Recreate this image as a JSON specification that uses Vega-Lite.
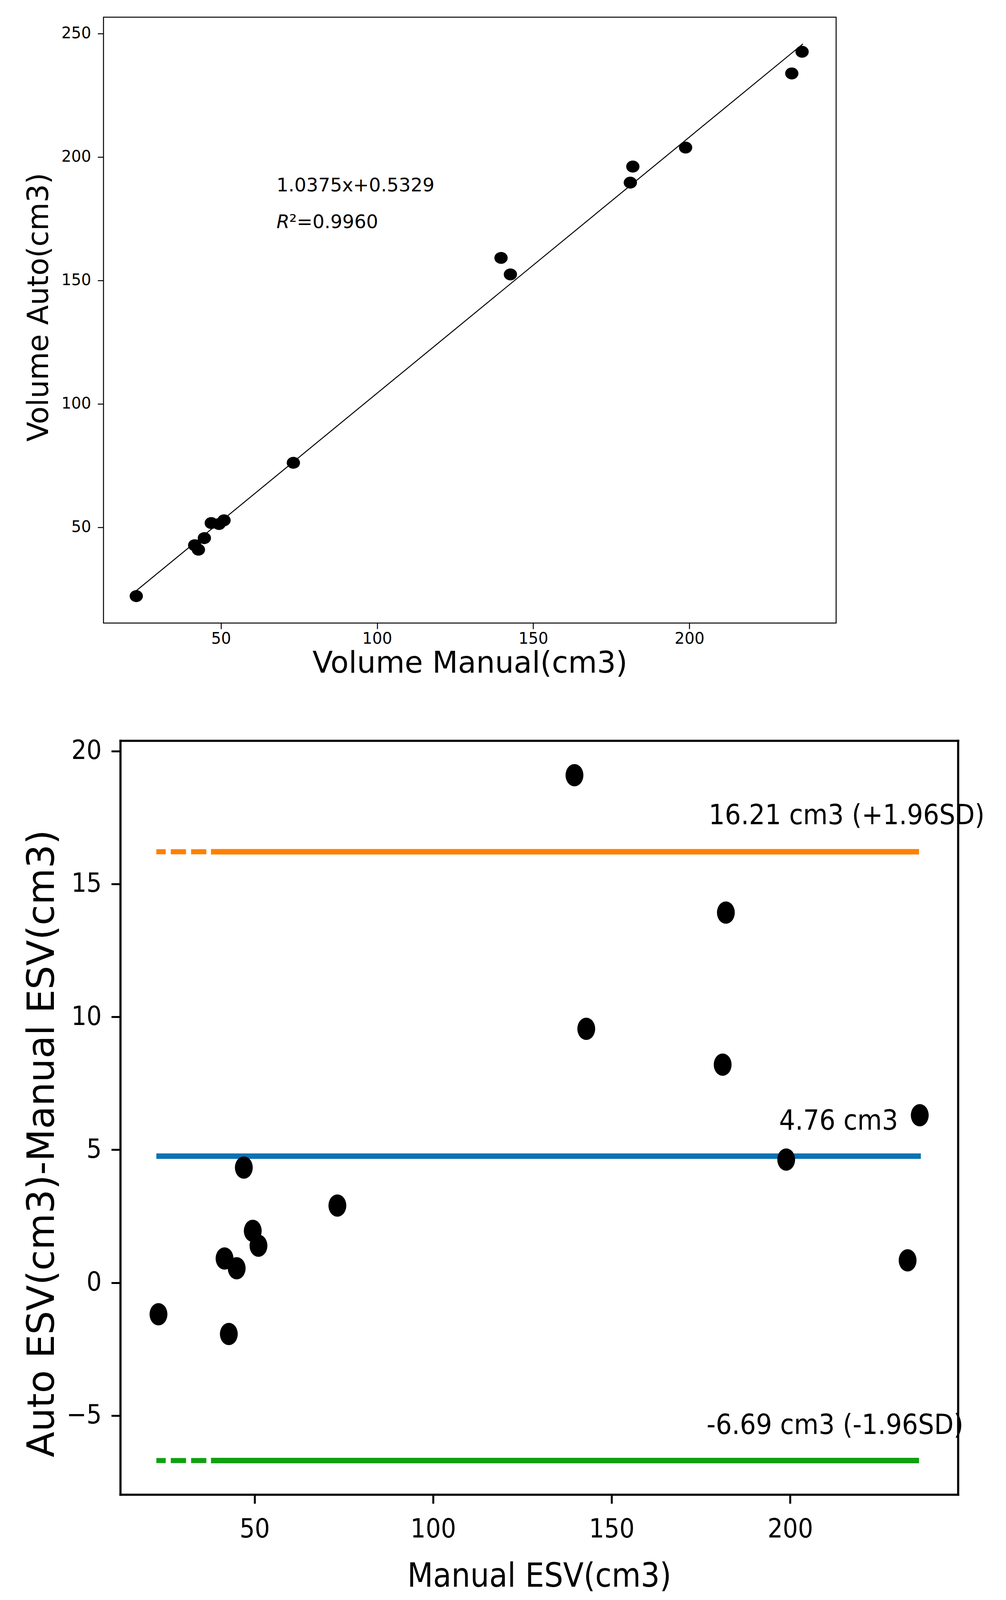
{
  "$schema": "https://vega.github.io/schema/vega-lite/v6.json",
  "background": "white",
  "padding": {"left": 60, "top": 42, "right": 40, "bottom": 20},
  "autosize": {"type": "pad"},
  "spacing": 150,
  "config": {"view": {"stroke": null}, "axis": {"grid": false}},
  "datasets": {
    "reg": [
      {"x": 22.9, "y": 22.1}, {"x": 41.6, "y": 42.7}, {"x": 42.8, "y": 40.9},
      {"x": 44.7, "y": 45.6}, {"x": 46.9, "y": 51.7}, {"x": 49.4, "y": 51.3},
      {"x": 51.0, "y": 52.8}, {"x": 73.2, "y": 76.1}, {"x": 139.7, "y": 159.1},
      {"x": 142.7, "y": 152.4}, {"x": 181.1, "y": 189.6}, {"x": 181.9, "y": 196.1},
      {"x": 198.8, "y": 203.8}, {"x": 232.8, "y": 233.8}, {"x": 236.1, "y": 242.6}
    ],
    "fit": [{"x": 22.9, "y": 24.29, "x2": 236.4, "y2": 245.8}],
    "fitText": [
      {"x": 67.8, "y": 186.0, "label": "1.0375x+0.5329"},
      {"x": 71.9, "y": 171.1, "label": "²=0.9960"}
    ],
    "fitR": [
      {"x": 67.8, "y": 171.1, "label": "R"}
    ],
    "ba": [
      {"x": 23.1, "d": -1.19}, {"x": 41.6, "d": 0.91}, {"x": 42.8, "d": -1.93},
      {"x": 45.0, "d": 0.54}, {"x": 47.0, "d": 4.33}, {"x": 49.5, "d": 1.95},
      {"x": 51.1, "d": 1.39}, {"x": 73.2, "d": 2.90}, {"x": 139.6, "d": 19.09},
      {"x": 142.9, "d": 9.55}, {"x": 181.1, "d": 8.20}, {"x": 182.0, "d": 13.92},
      {"x": 198.9, "d": 4.63}, {"x": 232.9, "d": 0.84}, {"x": 236.3, "d": 6.30}
    ],
    "limits": [
      {"name": "upper", "y": 16.21, "xs": 37.8, "xe": 236.1},
      {"name": "mean", "y": 4.76, "xs": 22.5, "xe": 236.6},
      {"name": "lower", "y": -6.69, "xs": 37.8, "xe": 236.1}
    ],
    "dashes": [
      {"name": "upper", "y": 16.21, "xs": 22.5, "xe": 37.8},
      {"name": "lower", "y": -6.69, "xs": 22.5, "xe": 37.8}
    ],
    "baText": [
      {"x": 177.2, "y": 17.25, "label": "16.21 cm3 (+1.96SD)"},
      {"x": 196.9, "y": 5.76, "label": "4.76 cm3"},
      {"x": 176.6, "y": -5.69, "label": "-6.69 cm3 (-1.96SD)"}
    ]
  },
  "vconcat": [
    {
      "width": 1876,
      "height": 1551,
      "view": {"stroke": "black", "strokeWidth": 2.5},
      "encoding": {
        "x": {
          "field": "x", "type": "quantitative",
          "scale": {"domain": [12.4, 247.0], "nice": false, "zero": false},
          "title": "Volume Manual(cm3)",
          "axis": {
            "values": [50, 100, 150, 200], "domain": false,
            "tickSize": 15, "tickWidth": 2.5, "tickColor": "black",
            "labelFont": "DejaVu Sans", "labelFontSize": 40, "labelColor": "black", "labelPadding": 5,
            "titleFont": "DejaVu Sans", "titleFontSize": 76, "titleFontWeight": "normal", "titleColor": "black", "titlePadding": 6
          }
        },
        "y": {
          "field": "y", "type": "quantitative",
          "scale": {"domain": [11.2, 256.6], "nice": false, "zero": false},
          "title": "Volume Auto(cm3)",
          "axis": {
            "values": [50, 100, 150, 200, 250], "domain": false,
            "tickSize": 15, "tickWidth": 2.5, "tickColor": "black",
            "labelFont": "DejaVu Sans", "labelFontSize": 40, "labelColor": "black", "labelPadding": 17,
            "titleFont": "DejaVu Sans", "titleFontSize": 74, "titleFontWeight": "normal", "titleColor": "black", "titlePadding": 18,
            "titleY": 742
          }
        }
      },
      "layer": [
        {
          "data": {"name": "fit"},
          "mark": {"type": "rule", "color": "black", "strokeWidth": 2.5},
          "encoding": {"x2": {"field": "x2"}, "y2": {"field": "y2"}}
        },
        {
          "data": {"name": "reg"},
          "mark": {"type": "point", "filled": true, "opacity": 1, "color": "black", "strokeWidth": 0,
                   "size": 1156, "shape": "M -1 0 A 1 0.9 0 1 1 1 0 A 1 0.9 0 1 1 -1 0 Z"}
        },
        {
          "data": {"name": "fitText"},
          "mark": {"type": "text", "align": "left", "baseline": "alphabetic", "font": "DejaVu Sans", "fontSize": 48, "color": "black"},
          "encoding": {"text": {"field": "label"}}
        },
        {
          "data": {"name": "fitR"},
          "mark": {"type": "text", "align": "left", "baseline": "alphabetic", "font": "DejaVu Sans", "fontStyle": "italic", "fontSize": 48, "color": "black"},
          "encoding": {"text": {"field": "label"}}
        }
      ]
    },
    {
      "width": 2188,
      "height": 1930,
      "resolve": {"axis": {"x": "independent", "y": "independent"}},
      "layer": [
        {
          "data": {"name": "limits"},
          "mark": {"type": "rule", "strokeWidth": 14},
          "encoding": {
            "x": {
              "field": "xs", "type": "quantitative",
              "scale": {"domain": [12.4, 247.0], "range": [43, 2188], "nice": false, "zero": false},
              "title": "Manual ESV(cm3)",
              "axis": {
                "values": [50, 100, 150, 200], "domain": true, "domainColor": "black", "domainWidth": 5.5, "domainCap": "square",
                "tickSize": 23, "tickWidth": 5, "tickColor": "black",
                "labelFont": "DejaVu Sans Condensed, DejaVu Sans", "labelFontSize": 68, "labelColor": "black", "labelPadding": 32,
                "titleFont": "DejaVu Sans Condensed, DejaVu Sans", "titleFontSize": 85, "titleFontWeight": "normal", "titleColor": "black", "titlePadding": 45
              }
            },
            "x2": {"field": "xe"},
            "y": {
              "field": "y", "type": "quantitative",
              "scale": {"domain": [-7.97, 20.39], "nice": false, "zero": false},
              "title": "Auto ESV(cm3)-Manual ESV(cm3)",
              "axis": {
                "values": [-5, 0, 5, 10, 15, 20], "offset": -43,
                "domain": true, "domainColor": "black", "domainWidth": 5.5, "domainCap": "square",
                "tickSize": 23, "tickWidth": 5, "tickColor": "black",
                "labelFont": "DejaVu Sans Condensed, DejaVu Sans", "labelFontSize": 68, "labelColor": "black", "labelPadding": 25,
                "titleFont": "DejaVu Sans", "titleFontSize": 96, "titleFontWeight": "normal", "titleColor": "black", "titlePadding": 12,
                "titleY": 1031
              }
            },
            "color": {"field": "name", "type": "nominal", "scale": {"domain": ["upper", "mean", "lower"], "range": ["#ff8000", "#0a72b4", "#10a010"]}, "legend": null}
          }
        },
        {
          "data": {"name": "dashes"},
          "mark": {"type": "rule", "strokeWidth": 13, "strokeDash": [39, 13], "strokeDashOffset": 15},
          "encoding": {
            "x": {"field": "xs", "type": "quantitative", "scale": {"domain": [12.4, 247.0], "range": [43, 2188], "nice": false, "zero": false}, "axis": null},
            "x2": {"field": "xe"},
            "y": {"field": "y", "type": "quantitative", "axis": null},
            "color": {"field": "name", "type": "nominal", "legend": null}
          }
        },
        {
          "data": {"name": "ba"},
          "mark": {"type": "point", "filled": true, "opacity": 1, "color": "black", "strokeWidth": 0,
                   "size": 3249, "shape": "M -0.8 0 A 0.8 1 0 1 1 0.8 0 A 0.8 1 0 1 1 -0.8 0 Z"},
          "encoding": {
            "x": {"field": "x", "type": "quantitative", "scale": {"domain": [12.4, 247.0], "range": [43, 2188], "nice": false, "zero": false}, "axis": null},
            "y": {"field": "d", "type": "quantitative", "axis": null}
          }
        },
        {
          "data": {"name": "baText"},
          "mark": {"type": "text", "align": "left", "baseline": "alphabetic", "font": "DejaVu Sans Condensed, DejaVu Sans", "fontSize": 72, "color": "black"},
          "encoding": {
            "x": {"field": "x", "type": "quantitative", "scale": {"domain": [12.4, 247.0], "range": [43, 2188], "nice": false, "zero": false}, "axis": null},
            "y": {"field": "y", "type": "quantitative", "axis": null},
            "text": {"field": "label"}
          }
        },
        {
          "data": {"name": "limits"},
          "mark": {"type": "rule", "opacity": 0},
          "encoding": {
            "x": {
              "field": "xs", "type": "quantitative", "scale": {"domain": [12.4, 247.0], "range": [43, 2188], "nice": false, "zero": false},
              "axis": {"orient": "top", "labels": false, "ticks": false, "title": null, "domain": true, "domainColor": "black", "domainWidth": 5.5, "domainCap": "square"}
            },
            "x2": {"field": "xe"},
            "y": {
              "field": "y", "type": "quantitative",
              "axis": {"orient": "right", "labels": false, "ticks": false, "title": null, "domain": true, "domainColor": "black", "domainWidth": 5.5, "domainCap": "square"}
            }
          }
        }
      ]
    }
  ]
}
